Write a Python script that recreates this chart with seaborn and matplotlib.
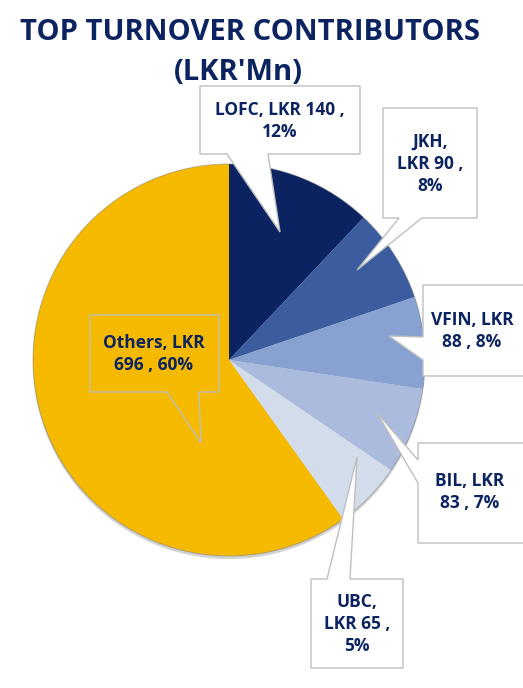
import numpy as np
import matplotlib
matplotlib.use("Agg")
import matplotlib.pyplot as plt
from matplotlib.patches import Polygon, Circle
import seaborn as sns

# data
companies = ["LOFC", "JKH", "VFIN", "BIL", "UBC", "Others"]
turnover = [140, 90, 88, 83, 65, 696]      # LKR Mn
pct_labels = ["12%", "8%", "8%", "7%", "5%", "60%"]
colors = ["#0B2461", "#3B5DA0", "#87A2D0", "#AABBDD", "#D3DCEB", "#F5B900"]

W, H = 523, 688
navy = "#0B2461"

sns.set_theme(style="white")
plt.rcParams["font.family"] = ["Open Sans", "DejaVu Sans"]

fig = plt.figure(figsize=(W / 100, H / 100), dpi=100)
ax = fig.add_axes([0, 0, 1, 1])

cx, cy, r = 229, H - 360, 196

# soft shadow under the pie
ax.add_patch(Circle((cx, cy - 3), r, fc="#9a9a9a", ec="none", alpha=0.45, zorder=1))
wedges, _ = ax.pie(turnover, colors=colors, startangle=90, counterclock=False,
                   center=(cx, cy), radius=r, frame=True,
                   wedgeprops=dict(linewidth=0, zorder=2))
ax.set_xlim(0, W)
ax.set_ylim(0, H)
ax.set_aspect("equal")
ax.axis("off")
ax.add_patch(Circle((cx, cy), r, fill=False, ec="#7a7a7a", lw=0.7, alpha=0.5, zorder=3))


def img(p):
    return (p[0], H - p[1])


def callout(box, side, base, tip, fc):
    # box = (x0, x1, y0, y1) in image pixels, pointer on one side
    x0, x1, y0, y1 = box
    if side == "bottom":
        pts = [(x0, y0), (x1, y0), (x1, y1), (base[1], y1), tip, (base[0], y1), (x0, y1)]
    elif side == "top":
        pts = [(x0, y0), (base[0], y0), tip, (base[1], y0), (x1, y0), (x1, y1), (x0, y1)]
    else:  # left
        pts = [(x0, y0), (x1, y0), (x1, y1), (x0, y1), (x0, base[1]), tip, (x0, base[0])]
    ax.add_patch(Polygon([img(p) for p in pts], closed=True, fc=fc, ec="#BFBFBF",
                         lw=1.0, zorder=5, clip_on=False))


# callout boxes (layout only)
boxes = [
    ((200, 360, 86, 154), "bottom", (227, 268), (280, 232), "white", (280, 121), "{0}, LKR {1} ,\n{2}"),
    ((383, 477, 108, 218), "bottom", (399, 422), (357, 270), "white", (430, 164), "{0},\nLKR {1} ,\n{2}"),
    ((423, 530, 285, 376), "left", (337, 360), (389, 336), "white", (472, 331), "{0}, LKR\n{1} , {2}"),
    ((418, 530, 443, 543), "left", (460, 483), (377, 413), "white", (470, 492), "{0}, LKR\n{1} , {2}"),
    ((311, 403, 579, 668), "top", (327, 350), (357, 457), "white", (357, 624), "{0},\nLKR {1} ,\n{2}"),
    ((90, 219, 315, 392), "bottom", (167, 199), (201, 443), "none", (154, 354), "{0}, LKR\n{1} , {2}"),
]

for name, val, pct, (box, side, base, tip, fc, tpos, fmt) in zip(companies, turnover, pct_labels, boxes):
    callout(box, side, base, tip, fc)
    ax.text(*img(tpos), fmt.format(name, val, pct), ha="center", va="center",
            fontsize=12.5, fontweight="bold", color=navy, linespacing=1.3, zorder=6)

ax.text(250, H - 32, "TOP TURNOVER CONTRIBUTORS", ha="center", va="center",
        fontsize=21, fontweight="bold", color=navy)
ax.text(238, H - 72, "(LKR'Mn)", ha="center", va="center",
        fontsize=21, fontweight="bold", color=navy)

fig.savefig("out.png", dpi=100)
